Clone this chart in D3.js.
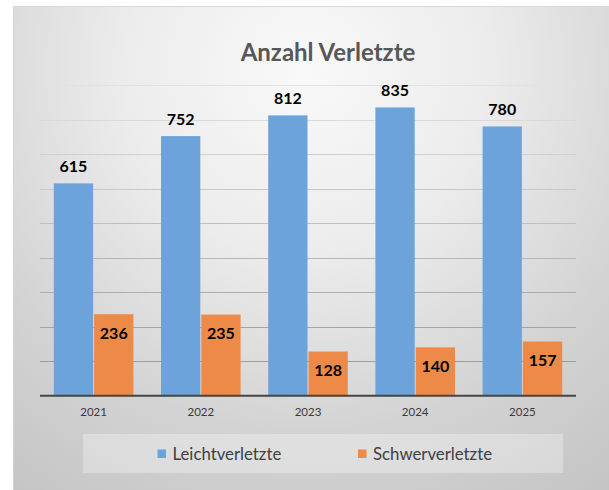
<!DOCTYPE html>
<html>
<head>
<meta charset="utf-8">
<script src="https://cdn.jsdelivr.net/npm/d3@7/dist/d3.min.js"></script>
<style>
  html, body { margin: 0; padding: 0; background: #ffffff; }
  svg { display: block; }
</style>
</head>
<body>
<svg id="chart" width="609" height="490"></svg>
<script>
const title = "Anzahl Verletzte";
const years = ["2021", "2022", "2023", "2024", "2025"];
const seriesNames = ["Leichtverletzte", "Schwerverletzte"];
const leicht = [615, 752, 812, 835, 780];
const schwer = [236, 235, 128, 140, 157];
const yTicks = [100, 200, 300, 400, 500, 600, 700, 800, 900];
const colors = ["#6ca3da", "#ee8a47"];

const svg = d3.select("#chart");
const font = "Lato, 'Open Sans', sans-serif";

// background gradient
const defs = svg.append("defs");
const rg = defs.append("radialGradient")
  .attr("id", "bg").attr("gradientUnits", "userSpaceOnUse")
  .attr("cx", 305).attr("cy", 70).attr("r", 520);
rg.append("stop").attr("offset", 0).attr("stop-color", "#f9f9f9");
rg.append("stop").attr("offset", 0.35).attr("stop-color", "#ececec");
rg.append("stop").attr("offset", 0.7).attr("stop-color", "#d3d3d3");
rg.append("stop").attr("offset", 1).attr("stop-color", "#c4c4c4");

svg.append("rect").attr("x", 13).attr("y", 6).attr("width", 596).attr("height", 484)
  .attr("fill", "url(#bg)");
svg.append("line").attr("x1", 13).attr("x2", 609).attr("y1", 6.5).attr("y2", 6.5)
  .attr("stroke", "#d8d8d8").attr("stroke-width", 1);
svg.append("line").attr("x1", 13.5).attr("x2", 13.5).attr("y1", 6).attr("y2", 490)
  .attr("stroke", "#d4d4d4").attr("stroke-width", 1);

const x0 = d3.scaleBand().domain(years).range([40, 576]).padding(0);
const x1 = d3.scaleBand().domain(seriesNames).range([0, x0.bandwidth()])
  .paddingInner(0).paddingOuter(0.33);
const y = d3.scaleLinear().domain([0, 900]).range([395.7, 85]);

// gridlines
const gcol = d3.interpolateRgb("#e2e2e2", "#939393");
svg.append("g").selectAll("line").data(yTicks).enter().append("line")
  .attr("x1", 40).attr("x2", 576)
  .attr("y1", d => Math.round(y(d)) + 0.5).attr("y2", d => Math.round(y(d)) + 0.5)
  .attr("stroke", d => gcol(1 - d / 900))
  .attr("stroke-width", 1);

// bars
const groups = svg.append("g").selectAll("g").data(years).enter().append("g")
  .attr("transform", d => `translate(${x0(d)},0)`);

const allSeries = [leicht, schwer];
groups.each(function(yr, i) {
  const g = d3.select(this);
  seriesNames.forEach((s, k) => {
    const v = allSeries[k][i];
    g.append("rect")
      .attr("x", x1(s) + 0.5)
      .attr("y", y(v))
      .attr("width", x1.bandwidth() - 1)
      .attr("height", y(0) - y(v))
      .attr("fill", colors[k]);
  });
});

// axis baseline
svg.append("line").attr("x1", 40).attr("x2", 576).attr("y1", y(0)).attr("y2", y(0))
  .attr("stroke", "#454545").attr("stroke-width", 2);

// x axis labels via d3 axis
const xAxis = d3.axisBottom(x0).tickSize(0).tickPadding(0);
const ax = svg.append("g").attr("transform", `translate(0,${y(0)})`).call(xAxis);
ax.select(".domain").remove();
ax.selectAll("text")
  .attr("dy", null).attr("y", 20.3)
  .attr("font-family", font).attr("font-size", 11.5).attr("fill", "#3a3a3a");

// data labels
groups.each(function(yr, i) {
  const g = d3.select(this);
  g.append("text")
    .attr("x", x1(seriesNames[0]) + x1.bandwidth() / 2)
    .attr("y", y(leicht[i]) - 11)
    .attr("text-anchor", "middle")
    .attr("font-family", font).attr("font-weight", 700).attr("font-size", 16)
    .attr("fill", "#000").text(leicht[i]);
  g.append("text")
    .attr("x", x1(seriesNames[1]) + x1.bandwidth() / 2)
    .attr("y", y(schwer[i]) + 24.3)
    .attr("text-anchor", "middle")
    .attr("font-family", font).attr("font-weight", 700).attr("font-size", 16)
    .attr("fill", "#000").text(schwer[i]);
});

// title
svg.append("text").attr("x", 328).attr("y", 61)
  .attr("text-anchor", "middle")
  .attr("font-family", font).attr("font-weight", 700).attr("font-size", 24)
  .attr("fill", "#575757").text(title);

// legend
svg.append("rect").attr("x", 83).attr("y", 434).attr("width", 480).attr("height", 39)
  .attr("fill", "#ffffff").attr("fill-opacity", 0.3);
const legendX = [157.5, 358];
seriesNames.forEach((s, k) => {
  svg.append("rect").attr("x", legendX[k]).attr("y", 449.5).attr("width", 8.5).attr("height", 8.5)
    .attr("fill", colors[k]);
  svg.append("text").attr("x", legendX[k] + 15).attr("y", 459.5)
    .attr("font-family", font).attr("font-size", 16.8).attr("fill", "#404040").text(s);
});
</script>
</body>
</html>
